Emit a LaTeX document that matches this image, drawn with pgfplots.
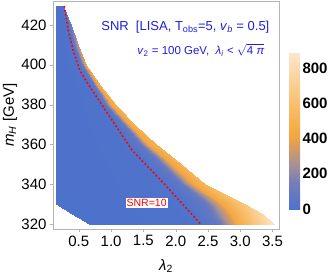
\documentclass[border=0pt]{standalone}
\usepackage{pgfplots}
\pgfplotsset{compat=1.18}
\usepackage{fontspec}
\setmainfont{Liberation Sans}
\definecolor{snrblue}{RGB}{30,30,225}
\definecolor{framegray}{RGB}{180,180,180}
\begin{document}
\begin{tikzpicture}
\path[use as bounding box] (-53pt,-47pt) rectangle (279pt,229pt);
\begin{axis}[
  scale only axis, width=226pt, height=228pt,
  xmin=0.1, xmax=3.6, ymin=317.6, ymax=432,
  font=\fontsize{15}{17}\selectfont,
  /pgf/number format/assume math mode=true,
  xtick={0.5,1,1.5,2,2.5,3,3.5},
  xticklabel style={/pgf/number format/fixed, /pgf/number format/fixed zerofill, /pgf/number format/precision=1},
  ytick={320,340,360,380,400,420},
  tick align=outside, major tick length=3pt,
  xtick pos=bottom, ytick pos=left,
  tick style={framegray},
  axis line style={framegray},
  xlabel={\textit{λ}\textsubscript{2}},
  ylabel={\textit{m}\textsubscript{\textit{H}} [GeV]},
  xlabel style={at={(axis description cs:0.5,-0.162)}, anchor=center},
  ylabel style={at={(axis description cs:-0.19,0.5)}, anchor=center},
  colormap={snr}{rgb255(0)=(77,114,204) rgb255(150)=(118,125,185) rgb255(250)=(165,145,150) rgb255(350)=(215,155,95) rgb255(420)=(245,167,65) rgb255(600)=(248,192,112) rgb255(890)=(253,232,205)},
  point meta min=0, point meta max=890,
  colorbar,
  colorbar shift/.style={},
  colorbar style={
    at={(parent axis.south east)}, anchor=south west, xshift=10pt, yshift=20pt,
    scale only axis, width=11pt, height=157pt,
    ytick={0,200,400,600,800},
    yticklabel style={font=\fontsize{15}{17}\selectfont\bfseries, xshift=-1pt},
    /pgf/number format/assume math mode=true,
    axis line style={draw=none},
    major tick length=0pt,
  },
  clip=false,
]
\addplot[surf, shader=interp, mesh/cols=5, mesh/rows=13, point meta=explicit] table[x=x, y=y, meta=c] {
x y c
0.65 320 0
2.38 320 10
2.65 320 80
2.95 320 420
3.53 320 870
0.40 325 0
2.245 325 10
2.55 325 80
2.85 325 420
3.36 325 780
0.15 330 0
2.107 330 10
2.45 330 80
2.72 330 420
3.07 330 650
0.15 340 0
1.828 340 10
2.08 340 80
2.25 340 400
2.46 340 520
0.15 350 0
1.535 350 10
1.78 350 80
1.92 350 400
2.08 350 500
0.15 360 0
1.265 360 10
1.455 360 80
1.56 360 400
1.69 360 500
0.15 370 0
1.06 370 10
1.20 370 80
1.28 370 400
1.376 370 500
0.15 380 0
0.856 380 10
0.92 380 80
1.00 380 400
1.083 380 500
0.15 390 0
0.651 390 10
0.73 390 80
0.78 390 380
0.83 390 480
0.15 400 0
0.488 400 10
0.545 400 70
0.58 400 300
0.618 400 420
0.15 410 0
0.391 410 10
0.43 410 60
0.455 410 200
0.487 410 300
0.15 420 0
0.319 420 10
0.345 420 40
0.365 420 100
0.385 420 150
0.15 429.5 0
0.255 429.5 10
0.257 429.5 20
0.259 429.5 40
0.26 429.5 60
};
\addplot[red, line width=1.6pt, dash pattern=on 1.8pt off 2.2pt] coordinates {
(0.275,429.5) (0.335,417.5) (0.41,407.5) (0.515,397.4) (0.59,393) (1.32,357.3) (1.86,338.9) (2.38,320.3)
};
\node[fill=white, inner sep=1pt, text=red, font=\fontsize{10.5}{12}\selectfont] at (axis cs:1.55,330.7) {SNR=10};
\node[anchor=east, text=snrblue, font=\fontsize{13}{15}\selectfont] at (rel axis cs:0.973,0.886) {SNR\ \ [LISA, T\textsubscript{obs}=5, \textit{v}\textsubscript{\textit{b}} = 0.5]};
\node[anchor=east, text=snrblue, font=\fontsize{11.5}{13}\selectfont] at (rel axis cs:0.951,0.785) {\textit{v}\textsubscript{2} = 100 GeV,\ \ \textit{λ}\textsubscript{\textit{i}} < $\sqrt{\hbox{4 \textit{π}}}$};
\end{axis}
\end{tikzpicture}
\end{document}
